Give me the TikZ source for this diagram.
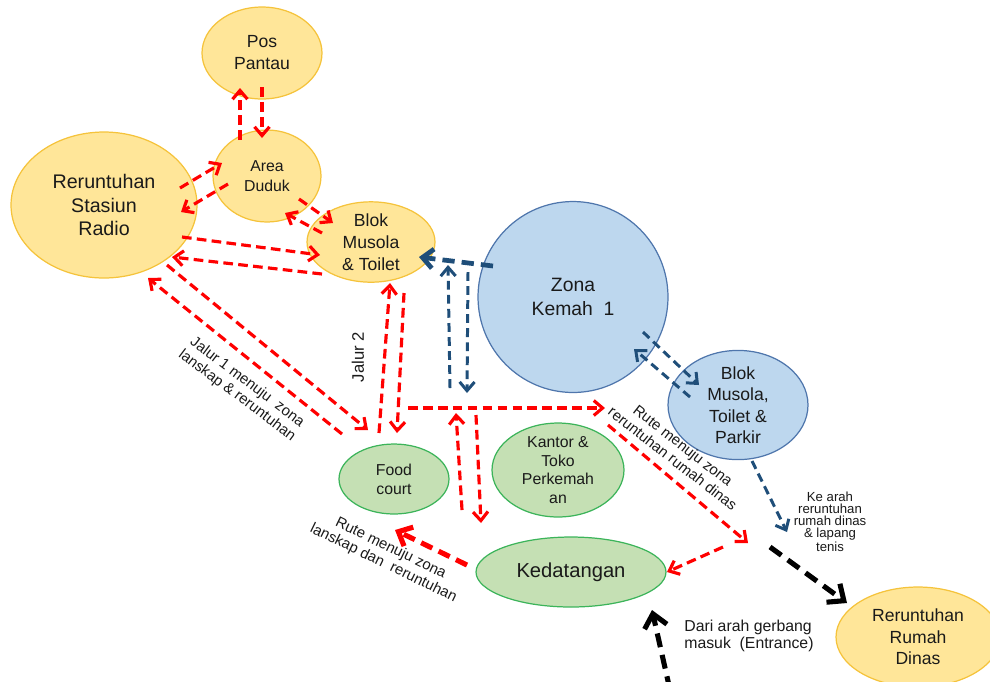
\documentclass[tikz,border=0pt]{standalone}
\usepackage{fontspec}
\setmainfont{Liberation Sans}
\usetikzlibrary{positioning,shapes.geometric,arrows.meta}
\definecolor{KuningIsi}{HTML}{FFE699}
\definecolor{KuningTepi}{HTML}{F5C33B}
\definecolor{BiruIsi}{HTML}{BDD7EE}
\definecolor{BiruTepi}{HTML}{4F76AC}
\definecolor{HijauIsi}{HTML}{C5E0B4}
\definecolor{HijauTepi}{HTML}{3CB45A}
\definecolor{RuteMerah}{HTML}{FF0000}
\definecolor{RuteBiru}{HTML}{1F4E79}
\definecolor{Teks}{HTML}{1A1A1A}

\begin{document}
\begin{tikzpicture}[x=0.02cm,y=-0.02cm,
    zona/.style={ellipse, draw, line width=0.7pt, inner sep=0pt, align=center, text=Teks},
    kuning/.style={zona, fill=KuningIsi, draw=KuningTepi},
    biru/.style={zona, fill=BiruIsi, draw=BiruTepi},
    hijau/.style={zona, fill=HijauIsi, draw=HijauTepi},
    rute/.style={draw=RuteMerah, line width=1.8pt, dash pattern=on 5.5pt off 3pt,
      -{Straight Barb[length=5pt,width=8.5pt]}},
    rutetebal/.style={rute, line width=2.9pt, dash pattern=on 7pt off 4pt,
      -{Straight Barb[length=6.5pt,width=12pt]}},
    rutebiru/.style={rute, draw=RuteBiru, line width=1.7pt, dash pattern=on 5pt off 3pt},
    rutebirutebal/.style={rutebiru, line width=2.7pt, dash pattern=on 7pt off 4pt,
      -{Straight Barb[length=6pt,width=11pt]}},
    rutehitam/.style={draw=black, line width=2.9pt, dash pattern=on 8pt off 4.5pt,
      -{Straight Barb[length=7.5pt,width=13pt]}},
    catatan/.style={align=center, text=Teks, inner sep=0pt, font=\fontsize{8.5}{9.5}\selectfont}]
  \useasboundingbox (0,0) rectangle (990,681);

  % Zona kuning
  \node[kuning, minimum width=2.4cm, minimum height=1.84cm, font=\fontsize{10}{12.5}\selectfont] (pantau) at (262,53) {Pos\\Pantau};
  \node[kuning, minimum width=2.16cm, minimum height=1.84cm, font=\fontsize{9}{11.3}\selectfont] (duduk) at (267,176) {Area\\Duduk};
  \node[kuning, minimum width=3.72cm, minimum height=2.92cm, font=\fontsize{11.2}{13.6}\selectfont] (radio) at (104,205) {Reruntuhan\\Stasiun\\Radio};
  \node[kuning, minimum width=2.56cm, minimum height=1.6cm, font=\fontsize{10}{12.5}\selectfont] (musola) at (371,242) {Blok\\Musola\\\& Toilet};
  \node[kuning, minimum width=3.28cm, minimum height=2cm, font=\fontsize{10}{12.2}\selectfont] (dinas) at (918,637) {Reruntuhan\\Rumah\\Dinas};

  % Zona biru
  \node[biru, minimum width=3.8cm, minimum height=3.82cm, font=\fontsize{11}{14}\selectfont] (kemah) at (573,297) {Zona\\Kemah\ \ 1};
  \node[biru, minimum width=2.8cm, minimum height=2.12cm, font=\fontsize{10}{12.2}\selectfont] (parkir) at (738,405) {Blok\\Musola,\\Toilet \&\\Parkir};

  % Zona hijau
  \node[hijau, minimum width=2.2cm, minimum height=1.4cm, font=\fontsize{9}{10.8}\selectfont] (food) at (394,479) {Food\\court};
  \node[hijau, minimum width=2.64cm, minimum height=1.52cm, font=\fontsize{9}{10.5}\selectfont] (kantor) at (558,470) {Kantor \&\\Toko\\Perkemah\\an};
  \node[hijau, minimum width=3.8cm, minimum height=1.4cm, font=\fontsize{11.5}{13}\selectfont] (datang) at (571,572) {Kedatangan};

  % Titik bebas
  \coordinate (simpang) at (408,408);
  \coordinate (rutedinas) at (605,408);
  \coordinate (simpangkiri) at (456,413);
  \coordinate (simpangkanan) at (476,415);
  \coordinate (dinasatas) at (608,425);
  \coordinate (dinasbawah) at (748,543);
  \coordinate (dinaskiri) at (723,547);
  \coordinate (lanskap) at (395,530);
  \coordinate (birunaik) at (450,388);
  \coordinate (biruturun) at (467,393);
  \coordinate (kearah) at (787,532);
  \coordinate (hitamatas) at (770,547);
  \coordinate (gerbang) at (670,690);

  % Rute merah
  \draw[rute] ([shift={(-27,-36)}]duduk.center) -- ([shift={(-22,35)}]pantau.center);
  \draw[rute] ([shift={(0,34)}]pantau.center) -- ([shift={(-5,-38)}]duduk.center);
  \draw[rute] ([shift={(76,-17)}]radio.center) -- ([shift={(-45,-13)}]duduk.center);
  \draw[rute] ([shift={(-39,8)}]duduk.center) -- ([shift={(77,7)}]radio.center);
  \draw[rute] ([shift={(32,23)}]duduk.center) -- ([shift={(-38,-19)}]musola.center);
  \draw[rute] ([shift={(-49,-9)}]musola.center) -- ([shift={(18,37)}]duduk.center);
  \draw[rute] ([shift={(78,32)}]radio.center) -- ([shift={(-51,13)}]musola.center);
  \draw[rute] ([shift={(-49,32)}]musola.center) -- ([shift={(68,52)}]radio.center);
  \draw[rute] ([shift={(63,60)}]radio.center) -- ([shift={(-26,-49)}]food.center);
  \draw[rute] ([shift={(-52,-45)}]food.center) -- ([shift={(44,73)}]radio.center);
  \draw[rute] ([shift={(-15,-46)}]food.center) -- ([shift={(19,41)}]musola.center);
  \draw[rute] ([shift={(33,51)}]musola.center) -- ([shift={(3,-46)}]food.center);
  \draw[rute] (simpang) -- (rutedinas);
  \draw[rute] ([shift={(-109,-62)}]datang.center) -- (simpangkiri);
  \draw[rute] (simpangkanan) -- ([shift={(-90,-49)}]datang.center);
  \draw[rute] (dinasatas) -- (dinasbawah);
  \draw[rute] (dinaskiri) -- ([shift={(96,0)}]datang.center);
  \draw[rutetebal] ([shift={(-104,-7)}]datang.center) -- (lanskap);

  % Rute biru
  \draw[rutebirutebal] ([shift={(-80,-31)}]kemah.center) -- ([shift={(48,15)}]musola.center);
  \draw[rutebiru] (birunaik) -- ([shift={(77,23)}]musola.center);
  \draw[rutebiru] ([shift={(97,30)}]musola.center) -- (biruturun);
  \draw[rutebiru] ([shift={(70,35)}]kemah.center) -- ([shift={(-39,-20)}]parkir.center);
  \draw[rutebiru] ([shift={(-48,-8)}]parkir.center) -- ([shift={(61,52)}]kemah.center);
  \draw[rutebiru] ([shift={(14,56)}]parkir.center) -- (kearah);

  % Rute hitam
  \draw[rutehitam] (hitamatas) -- ([shift={(-71,-34)}]dinas.center);
  \draw[rutehitam] (gerbang) -- ([shift={(81,38)}]datang.center);

  % Keterangan
  \node[catatan, rotate=-37] (jalursatu) at (242,389) {Jalur 1 menuju\ \ zona\\lanskap \& reruntuhan};
  \node[catatan, rotate=90, font=\fontsize{9.5}{11}\selectfont] (jalurdua) at (358,357) {Jalur 2};
  \node[catatan, rotate=-38] (tekdinas) at (678,452) {Rute menuju zona\\reruntuhan rumah dinas};
  \node[catatan, rotate=-26] (teklanskap) at (387,556) {Rute menuju zona\\lanskap dan\ \ reruntuhan};
  \node[catatan, font=\fontsize{7.5}{6.9}\selectfont] (tekkearah) at (830,522) {Ke arah\\reruntuhan\\rumah dinas\\\& lapang\\tenis};
  \node[catatan, anchor=west, align=left, font=\fontsize{9}{9.8}\selectfont] (tekgerbang) at (684,636) {Dari arah gerbang\\masuk\ \ (Entrance)};
\end{tikzpicture}
\end{document}
